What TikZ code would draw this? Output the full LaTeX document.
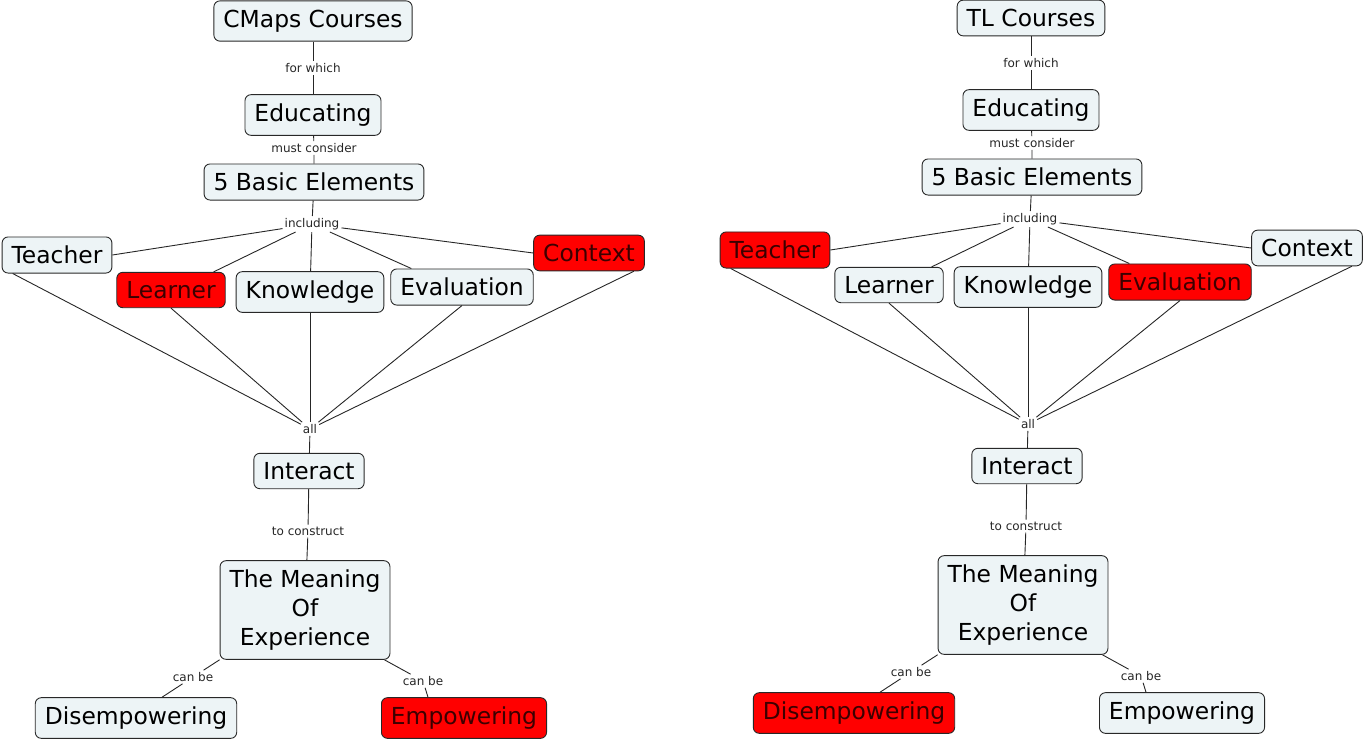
\documentclass[tikz,border=0pt]{standalone}
\usepackage{fontspec}
\setmainfont{DejaVu Sans}
\definecolor{pale}{RGB}{237,244,246}
\definecolor{hotred}{RGB}{255,0,0}
\definecolor{hotink}{RGB}{60,0,0}
\definecolor{rim}{RGB}{40,40,40}
\tikzset{
  concept/.style={draw=rim,fill=pale,rounded corners=6pt,line width=0.9pt,
    inner xsep=9.5pt,inner ysep=9pt,font=\fontsize{23.4}{29}\selectfont},
  hot/.style={concept,fill=hotred,text=hotink},
  link/.style={inner sep=2pt,font=\fontsize{12}{14}\selectfont,text=black!85},
  con/.style={line width=0.9pt,black!85}
}
\begin{document}
\begin{tikzpicture}[x=1pt,y=-1pt]
\useasboundingbox (0,0) rectangle (1364,740);
% two maps, same layout, other nodes in red
\foreach \m/\dx/\dy/\title/\ty/\st/\sl/\se/\sc/\sd/\sp in
  {L/0/0/CMaps Courses/21/concept/hot/concept/hot/concept/hot,
   R/718/-5/TL Courses/23/hot/concept/hot/concept/hot/concept}{
\begin{scope}[shift={(\dx,\dy)}]
\node[concept] (\m-title) at (313,\ty) {\title};
\node[concept] (\m-edu) at (313,115) {Educating};
\node[concept] (\m-five) at (314,182) {5 Basic Elements};
\node[\st] (\m-teach) at (57,255) {Teacher};
\node[\sl] (\m-learn) at (171,290) {Learner};
\node[concept] (\m-know) at (310,292) {Knowledge};
\node[\se] (\m-eval) at (462,287) {Evaluation};
\node[\sc] (\m-cont) at (589,253) {Context};
\node[concept] (\m-inter) at (309,471) {Interact};
\node[concept,align=center] (\m-mean) at (305,610) {The Meaning\\Of\\Experience};
\node[\sd] (\m-dis) at (136,718) {Disempowering};
\node[\sp] (\m-emp) at (464,718) {Empowering};
% linking phrases
\node[link] (\m-which) at (313,68) {for which};
\node[link] (\m-must) at (314,148) {must consider};
\node[link] (\m-incl) at (312,224) {including};
\node[link] (\m-all) at (310,429) {all};
\node[link] (\m-build) at (308,531) {to construct};
\node[link] (\m-canA) at (193,677) {can be};
\node[link] (\m-canB) at (423,681) {can be};
% connections
\draw[con] (\m-title) -- (\m-which) -- (\m-edu);
\draw[con] (\m-edu) -- (\m-must) -- (\m-five);
\draw[con] (\m-five) -- (\m-incl);
\draw[con] (\m-incl) -- (\m-teach.east);
\draw[con] (\m-incl) -- ([xshift=-12pt]\m-learn.north east);
\draw[con] (\m-incl) -- (\m-know);
\draw[con] (\m-incl) -- ([xshift=21pt]\m-eval.north west);
\draw[con] (\m-incl) -- (\m-cont.west);
\draw[con] ([xshift=11pt]\m-teach.south west) -- (\m-all);
\draw[con] (\m-learn.south) -- (\m-all);
\draw[con] (\m-know) -- (\m-all);
\draw[con] (\m-eval.south) -- (\m-all);
\draw[con] ([xshift=-11pt]\m-cont.south east) -- (\m-all);
\draw[con] (\m-all) -- (\m-inter) -- (\m-build) -- (\m-mean);
\draw[con] (\m-mean.south west) -- (\m-canA) -- ([xshift=26pt]\m-dis.north);
\draw[con] ([xshift=-6pt]\m-mean.south east) -- (\m-canB) -- ([xshift=-36pt]\m-emp.north);
\end{scope}
}
\end{tikzpicture}
\end{document}
